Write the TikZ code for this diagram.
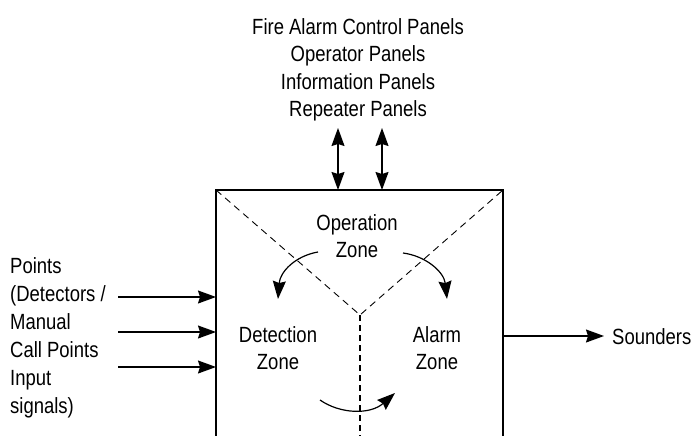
\documentclass[tikz,border=0pt]{standalone}
\usepackage{fontspec}
\setmainfont{Liberation Sans}[FakeStretch=0.84]
\usetikzlibrary{arrows.meta}
\begin{document}
\begin{tikzpicture}[x=1pt,y=-1pt,
  lbl/.style={font=\fontsize{22}{27.6}\selectfont, inner sep=0pt, align=center},
  zlbl/.style={font=\fontsize{22}{26.5}\selectfont, inner sep=0pt, align=center},
  lbll/.style={font=\fontsize{22}{28}\selectfont, inner sep=0pt, align=left},
  arr/.style={line width=1.2pt, -{Stealth[length=18pt,width=13pt,inset=2pt]}},
  darr/.style={line width=1.2pt, {Stealth[length=18pt,width=13pt,inset=2pt]}-{Stealth[length=18pt,width=13pt,inset=2pt]}},
  wall/.style={line width=1.2pt},
  zdash/.style={line width=0.9pt, dash pattern=on 7pt off 5pt},
  vdash/.style={line width=1.8pt, dash pattern=on 6pt off 4pt}]
\useasboundingbox (0,0) rectangle (697,436);
% box corners
\coordinate (bl) at (216,440);
\coordinate (tl) at (216,190);
\coordinate (tr) at (503,190);
\coordinate (br) at (503,440);
\coordinate (ctr) at (360,315);
\coordinate (bot) at (360,440);
\draw[wall] (bl) -- (tl) -- (tr) -- (br);
% dashed zone dividers
\draw[zdash] (tl) -- (ctr) -- (tr);
\draw[vdash] (ctr) -- (bot);
% top text
\node[lbl, anchor=north] (panels) at (358,18) {Fire Alarm Control Panels\\Operator Panels\\Information Panels\\Repeater Panels};
\coordinate (t1a) at (338,128);
\coordinate (t1b) at (338,190);
\coordinate (t2a) at (382,128);
\coordinate (t2b) at (382,190);
\draw[darr] (t1a) -- (t1b);
\draw[darr] (t2a) -- (t2b);
% left text
\node[lbll, anchor=north west] (points) at (10,257) {Points\\(Detectors /\\Manual\\Call Points\\Input\\signals)};
\coordinate (i1) at (118,297);
\coordinate (i2) at (118,332);
\coordinate (i3) at (118,367);
\draw[arr] (i1) -- (i1 -| tl);
\draw[arr] (i2) -- (i2 -| tl);
\draw[arr] (i3) -- (i3 -| tl);
% right
\node[lbl, anchor=west] (snd) at (612,337) {Sounders};
\coordinate (o1) at (503,336);
\coordinate (o2) at (604,336);
\draw[arr] (o1) -- (o2);
% zone labels
\node[zlbl] (op) at (357,236) {Operation\\Zone};
\node[zlbl] (det) at (278,348) {Detection\\Zone};
\node[zlbl] (alm) at (437,348) {Alarm\\Zone};
% curved arrows
\coordinate (c1s) at (318,252);
\coordinate (c1e) at (278,299);
\coordinate (c2s) at (403,253);
\coordinate (c2e) at (447,299);
\coordinate (c3s) at (320,400);
\coordinate (c3e) at (395,393);
\draw[arr] (c1s) .. controls (295,256) and (280,272) .. (c1e);
\draw[arr] (c2s) .. controls (426,256) and (444,272) .. (c2e);
\draw[arr] (c3s) .. controls (340,414) and (370,415) .. (c3e);
\end{tikzpicture}
\end{document}
